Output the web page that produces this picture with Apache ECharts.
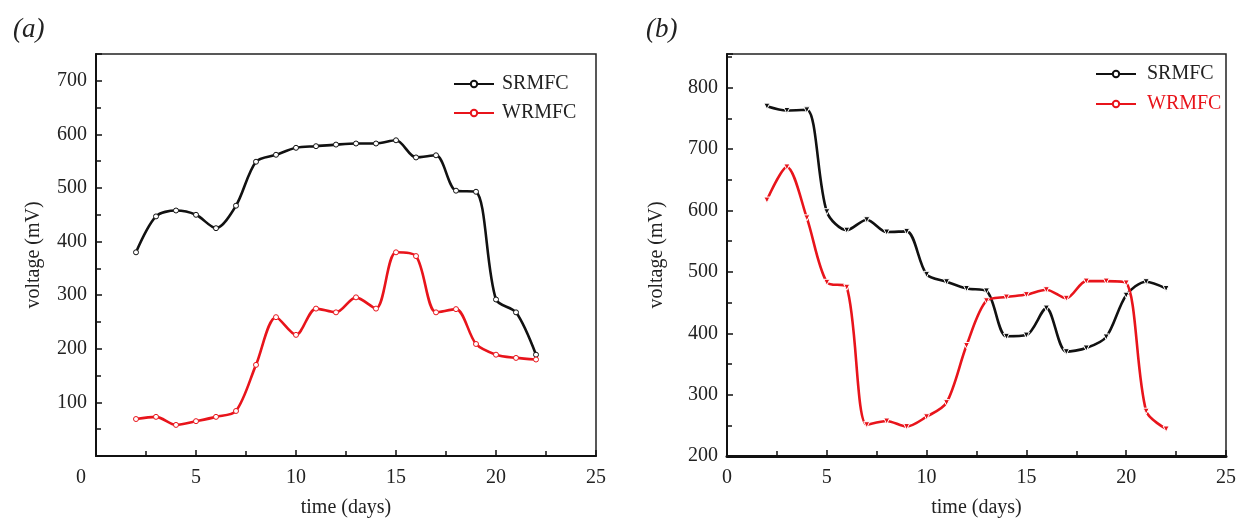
<!DOCTYPE html>
<html>
<head>
<meta charset="utf-8">
<script src="https://cdn.jsdelivr.net/npm/echarts@6/dist/echarts.min.js"></script>
<style>html,body{margin:0;padding:0;background:#fff;}#c{width:1239px;height:523px;}</style>
</head>
<body>
<div id="c"></div>
<script>
// ---- data ----
const days = [2,3,4,5,6,7,8,9,10,11,12,13,14,15,16,17,18,19,20,21,22];
const srmfcA = [380,447,458,450,425,467,549,562,575,578,581,583,583,589,557,561,495,493,292,268,189];
const wrmfcA = [69,73,58,65,73,84,170,259,226,275,268,296,275,380,373,268,274,209,189,183,180];
const srmfcB = [770,763,764,598,568,585,565,566,496,484,473,469,395,397,441,370,376,394,462,484,473];
const wrmfcB = [617,671,588,483,475,251,257,248,264,287,380,453,459,463,471,457,485,485,482,273,244];
const seriesNames = ['SRMFC','WRMFC'];
const panelLabels = ['(a)','(b)'];
const xName = 'time (days)';
const yName = 'voltage (mV)';

const FONT = 'Liberation Serif';
const BLACK = '#111';
const RED = '#e8141b';
const TXT = '#222';

function pts(vals){ return days.map((d,i)=>[d, vals[i]]); }

function xAxis(gi, shiftZero, lw){
  return {
    type:'value', gridIndex:gi, min:0, max:25, interval:5,
    name:xName, nameLocation:'middle', nameGap:42,
    nameTextStyle:{fontFamily:FONT, fontSize:20, color:TXT},
    axisLine:{lineStyle:{color:'#111', width:lw}},
    axisTick:{inside:true, length:6, lineStyle:{color:'#111', width:1.5}},
    minorTick:{show:true, splitNumber:2, length:5, lineStyle:{color:'#111', width:1.5}},
    splitLine:{show:false},
    axisLabel:{
      fontFamily:FONT, fontSize:20, color:TXT, margin:12,
      formatter: v => (shiftZero && v===0) ? '{z|0}' : String(v),
      rich:{z:{fontFamily:FONT, fontSize:20, color:TXT, padding:[0,30,0,0]}}
    }
  };
}
function yAxis(gi, min, max, showMin, gap){
  return {
    type:'value', gridIndex:gi, min:min, max:max, interval:100,
    name:yName, nameLocation:'middle', nameGap:gap, nameRotate:90,
    nameTextStyle:{fontFamily:FONT, fontSize:20, color:TXT},
    axisLine:{lineStyle:{color:'#111', width:2}},
    axisTick:{inside:true, length:6, lineStyle:{color:'#111', width:1.5}},
    minorTick:{show:true, splitNumber:2, length:5, lineStyle:{color:'#111', width:1.5}},
    splitLine:{show:false},
    axisLabel:{fontFamily:FONT, fontSize:20, color:TXT, margin:9, showMinLabel:showMin, showMaxLabel:false}
  };
}
function lineSeries(name, vals, gi, color, symbol, rot, fill, border, size){
  return {
    type:'line', name:name, xAxisIndex:gi, yAxisIndex:gi, data:pts(vals),
    smooth:0.3, symbol:symbol, symbolRotate:rot, symbolSize:size,
    lineStyle:{color:color, width:2.6},
    itemStyle:{color:fill, borderColor:border, borderWidth:1},
    emphasis:{disabled:true}, z:3
  };
}

const chart = echarts.init(document.getElementById('c'), null, {renderer:'canvas'});
chart.setOption({
  animation:false,
  backgroundColor:'#fff',
  title:[
    {text:panelLabels[0], left:8, top:11, textStyle:{fontFamily:FONT, fontStyle:'italic', fontWeight:'normal', fontSize:27, color:TXT}},
    {text:panelLabels[1], left:641, top:11, textStyle:{fontFamily:FONT, fontStyle:'italic', fontWeight:'normal', fontSize:27, color:TXT}}
  ],
  grid:[
    {left:96, top:54, width:500, height:404, show:true, borderColor:'#222', borderWidth:1.5, backgroundColor:'transparent'},
    {left:727, top:54, width:501, height:404, show:true, borderColor:'#222', borderWidth:1.5, backgroundColor:'transparent'}
  ],
  legend:[
    {orient:'vertical', left:448, top:69, itemWidth:40, itemHeight:8, itemGap:9,
     data:[{name:seriesNames[0]},{name:seriesNames[1]}],
     textStyle:{fontFamily:FONT, fontSize:20, color:TXT, padding:[0,0,0,3]}, selectedMode:false},
    {orient:'vertical', left:1090, top:59, itemWidth:40, itemHeight:8, itemGap:10,
     data:[{name:seriesNames[0], textStyle:{color:TXT}},{name:seriesNames[1], textStyle:{color:RED}}],
     textStyle:{fontFamily:FONT, fontSize:20, color:TXT, padding:[0,0,0,6]}, selectedMode:false}
  ],
  xAxis:[xAxis(0,true,2), xAxis(1,false,3)],
  yAxis:[yAxis(0,0,750,false,52), yAxis(1,200,855,true,60)],
  series:[
    lineSeries(seriesNames[0], srmfcA, 0, BLACK, 'circle', 0, '#fff', BLACK, 5),
    lineSeries(seriesNames[1], wrmfcA, 0, RED, 'circle', 0, '#fff', RED, 5),
    lineSeries(seriesNames[0], srmfcB, 1, BLACK, 'triangle', 180, BLACK, '#fff', 6),
    lineSeries(seriesNames[1], wrmfcB, 1, RED, 'triangle', 180, RED, '#fff', 6)
  ]
});
</script>
</body>
</html>
